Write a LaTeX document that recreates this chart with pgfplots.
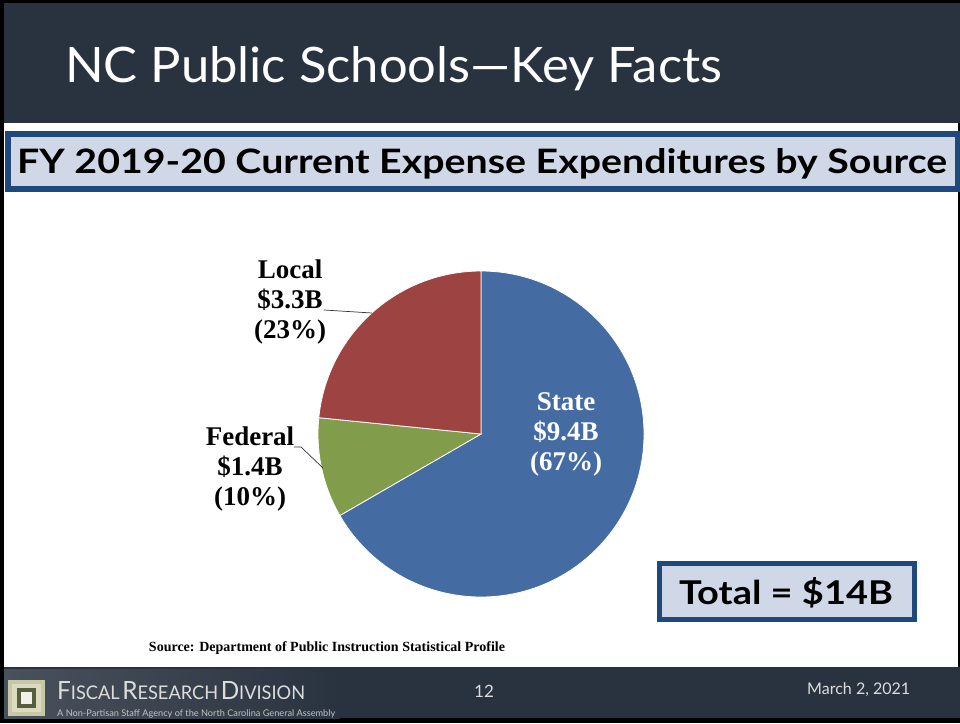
\documentclass[border=0pt]{standalone}
\usepackage{fontspec}
\usepackage{graphicx}
\usepackage{pgfplots}
\usepackage{pgfplotstable}
\pgfplotsset{compat=1.18}
\setmainfont{Liberation Serif}
\newfontfamily\gill{Lato}

\definecolor{hdr}{HTML}{29333F}
\definecolor{boxblue}{HTML}{1F497D}
\definecolor{boxfill}{HTML}{D0D8E8}
\definecolor{pieblue}{HTML}{456CA2}
\definecolor{piered}{HTML}{9D4341}
\definecolor{piegreen}{HTML}{819C4B}
\definecolor{foottxt}{HTML}{DCDCDC}
\definecolor{logoA}{HTML}{C7C9A6}
\definecolor{logoB}{HTML}{DADBC0}
\definecolor{logoC}{HTML}{56603F}
\definecolor{logoD}{HTML}{F2F2EA}

% FY 2019-20 current expense by source, billions
\pgfplotstableread{
source  value
State   9.4
Federal 1.4
Local   3.3
}\piedata

\newcommand{\fakesc}[2]{{\fontsize{24}{24}\selectfont #1}{\fontsize{18}{18}\selectfont #2}}

\begin{document}
\begin{tikzpicture}
% slide frame, header, title box, footer
\begin{scope}[x=1pt,y=-1pt]
  \fill[black] (0,0) rectangle (960,723);
  \fill[white] (4,3) rectangle (958,718);
  \fill[hdr] (4,3) rectangle (960,123);
  \node[anchor=base west, text=white, inner sep=0pt] at (65,82)
    {\resizebox{657pt}{36pt}{\gill\fontsize{48}{48}\selectfont NC Public Schools—Key Facts}};
  \fill[boxblue] (5,131) rectangle (960,192);
  \fill[boxfill] (11,137) rectangle (955,186);
  \node[anchor=base west, inner sep=0pt] at (17,173)
    {\resizebox{930pt}{25pt}{\gill\bfseries\fontsize{34}{34}\selectfont FY 2019-20 Current Expense Expenditures by Source}};
  \fill[hdr] (4,667) rectangle (960,718);
  \shade[left color=hdr!85!white, right color=hdr] (4,669) rectangle (340,718);
  % logo
  \fill[logoA] (8,680) rectangle (45,716);
  \fill[logoB] (12,684) rectangle (41,712);
  \fill[logoC] (17,688) rectangle (36,708);
  \fill[logoD] (21,692) rectangle (32,704);
  \node[anchor=base west, text=foottxt, inner sep=0pt] at (57,699)
    {\resizebox{248pt}{18pt}{\gill\fakesc{F}{ISCAL} \fakesc{R}{ESEARCH} \fakesc{D}{IVISION}}};
  \node[anchor=base west, text=foottxt!85!hdr, inner sep=0pt] at (57,716)
    {\resizebox{278pt}{!}{\gill\fontsize{8}{8}\selectfont A Non-Partisan Staff Agency of the North Carolina General Assembly}};
  \node[anchor=base, text=foottxt, inner sep=0pt] at (484,697)
    {\gill\fontsize{17}{17}\selectfont 12};
  \node[anchor=base west, text=foottxt, inner sep=0pt] at (807,694)
    {\resizebox{103pt}{!}{\gill\fontsize{18}{18}\selectfont March 2, 2021}};
\end{scope}

% slice angles from the table, clockwise from 12 o'clock
\pgfplotstablegetelem{0}{value}\of\piedata \let\vS\pgfplotsretval
\pgfplotstablegetelem{1}{value}\of\piedata \let\vF\pgfplotsretval
\pgfplotstablegetelem{2}{value}\of\piedata \let\vL\pgfplotsretval
\pgfmathsetmacro\tot{\vS+\vF+\vL}
\pgfmathsetmacro\aA{90}
\pgfmathsetmacro\aB{90-360*\vS/\tot}
\pgfmathsetmacro\aC{\aB-360*\vF/\tot}
\pgfmathsetmacro\aD{-270}

\begin{axis}[
    at={(481pt,-434pt)}, anchor=origin,
    scale only axis, width=326pt, height=326pt,
    xmin=-1, xmax=1, ymin=-1, ymax=1,
    hide axis, clip=false
]
  \fill[pieblue, draw=white, line width=0.8pt] (0,0) -- ({cos(\aA)},{sin(\aA)})
    arc[start angle=\aA, end angle=\aB, radius=163pt] -- cycle;
  \fill[piegreen, draw=white, line width=0.8pt] (0,0) -- ({cos(\aB)},{sin(\aB)})
    arc[start angle=\aB, end angle=\aC, radius=163pt] -- cycle;
  \fill[piered, draw=white, line width=0.8pt] (0,0) -- ({cos(\aC)},{sin(\aC)})
    arc[start angle=\aC, end angle=\aD, radius=163pt] -- cycle;
\end{axis}

% labels, leader lines, total box, source
\begin{scope}[x=1pt,y=-1pt]
  \draw[black!80, line width=0.7pt] (324,310) -- (372,313);
  \draw[black!80, line width=0.7pt] (294,447) -- (301,447) -- (323,468);
  \node[align=center, font=\bfseries\fontsize{27}{30}\selectfont, inner sep=0pt] at (290,302)
    {Local\\\$3.3B\\(23\%)};
  \node[align=center, font=\bfseries\fontsize{27}{30}\selectfont, inner sep=0pt] at (250,469)
    {Federal\\\$1.4B\\(10\%)};
  \node[align=center, text=white, font=\bfseries\fontsize{27}{30}\selectfont, inner sep=0pt] at (566,434)
    {State\\\$9.4B\\(67\%)};
  \fill[boxblue] (657,561) rectangle (917,622);
  \fill[boxfill] (662,566) rectangle (912,617);
  \node[anchor=base, inner sep=0pt] at (786,604)
    {\resizebox{214pt}{27pt}{\gill\bfseries\fontsize{36}{36}\selectfont Total = \$14B}};
  \node[anchor=base, inner sep=0pt, font=\bfseries\fontsize{14}{16}\selectfont] at (327,651)
    {Source: Department of Public Instruction Statistical Profile};
\end{scope}
\end{tikzpicture}
\end{document}
